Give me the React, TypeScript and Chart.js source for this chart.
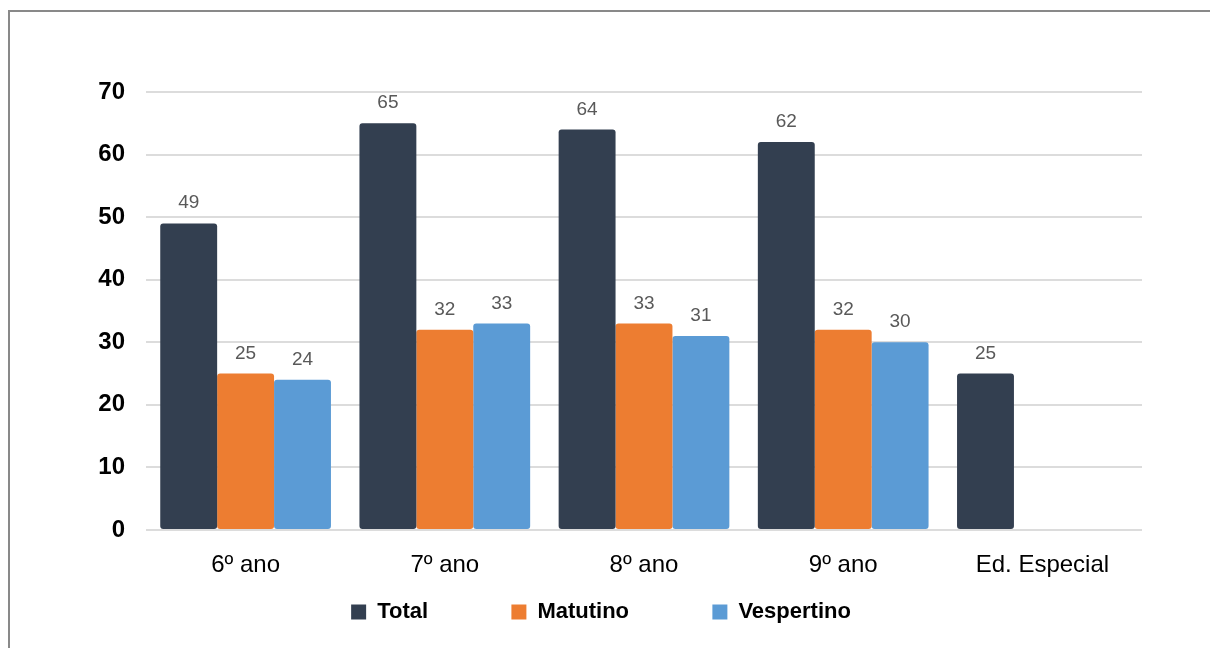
import React, { useEffect, useRef } from "react";
import { Chart, registerables } from "chart.js";

Chart.register(...registerables);

const categories = ["6º ano", "7º ano", "8º ano", "9º ano", "Ed. Especial"];
const totalValues = [49, 65, 64, 62, 25];
const matutinoValues = [25, 32, 33, 32, null];
const vespertinoValues = [24, 33, 31, 30, null];
const seriesNames = ["Total", "Matutino", "Vespertino"];
const seriesColors = ["#333F50", "#ED7D31", "#5B9BD5"];
const yTicks = [0, 10, 20, 30, 40, 50, 60, 70];

const FONT = "'Liberation Sans', Arial, sans-serif";

const valueLabels = {
  id: "valueLabels",
  afterDatasetsDraw(chart: any) {
    const ctx = chart.ctx;
    ctx.save();
    ctx.font = `19px ${FONT}`;
    ctx.fillStyle = "#595959";
    ctx.textAlign = "center";
    ctx.textBaseline = "alphabetic";
    chart.data.datasets.forEach((ds: any, di: number) => {
      const meta = chart.getDatasetMeta(di);
      meta.data.forEach((el: any, i: number) => {
        const v = ds.data[i];
        if (v === null || v === undefined) return;
        ctx.fillText(String(v), el.x, el.y - 15);
      });
    });
    ctx.restore();
  },
};

export default function App() {
  const ref = useRef<HTMLCanvasElement | null>(null);
  useEffect(() => {
    if (!ref.current) return;
    const pad = "\u00A0".repeat(12);
    const chart = new Chart(ref.current, {
      type: "bar",
      data: {
        labels: categories,
        datasets: [totalValues, matutinoValues, vespertinoValues].map((d, i) => ({
          label: seriesNames[i],
          data: d,
          backgroundColor: seriesColors[i],
          borderRadius: 3,
          borderSkipped: false,
          categoryPercentage: 0.857,
          barPercentage: 1.0,
        })),
      },
      options: {
        responsive: false,
        animation: false,
        layout: { padding: { left: 60, right: 68, top: 92, bottom: 15 } },
        plugins: {
          tooltip: { enabled: false },
          legend: {
            position: "bottom",
            labels: {
              boxWidth: 15,
              boxHeight: 15,
              padding: 10,
              color: "#000",
              font: { family: FONT, size: 22, weight: "bold" },
              generateLabels: (c: any) =>
                c.data.datasets.map((ds: any, i: number) => ({
                  text: ds.label + (i < c.data.datasets.length - 1 ? pad : ""),
                  fillStyle: ds.backgroundColor,
                  strokeStyle: ds.backgroundColor,
                  lineWidth: 0,
                  hidden: false,
                  datasetIndex: i,
                })),
            },
          },
        },
        scales: {
          x: {
            grid: { display: false },
            border: { display: false },
            ticks: {
              color: "#000",
              padding: 13,
              font: { family: FONT, size: 24 },
              maxRotation: 0,
            },
            afterFit: (s: any) => {
              s.height = 61;
            },
          },
          y: {
            min: 0,
            max: 70,
            border: { display: false },
            grid: { color: "#dcdcdc", lineWidth: 2, drawTicks: false },
            afterBuildTicks: (s: any) => {
              s.ticks = yTicks.map((v) => ({ value: v }));
            },
            ticks: {
              color: "#000",
              padding: 21,
              font: { family: FONT, size: 24, weight: "bold" },
            },
            afterFit: (s: any) => {
              s.width = 86;
            },
          },
        },
      },
      plugins: [valueLabels],
    } as any);
    return () => chart.destroy();
  }, []);

  return (
    <div style={{ position: "fixed", left: 0, top: 0, width: 1210, height: 648, overflow: "hidden", background: "#fff" }}>
      <div
        style={{
          position: "absolute",
          left: 8,
          top: 10,
          width: 1400,
          height: 900,
          border: "2px solid #898989",
          boxSizing: "border-box",
        }}
      />
      <canvas ref={ref} width={1210} height={648} style={{ position: "absolute", left: 0, top: 0 }} />
    </div>
  );
}
